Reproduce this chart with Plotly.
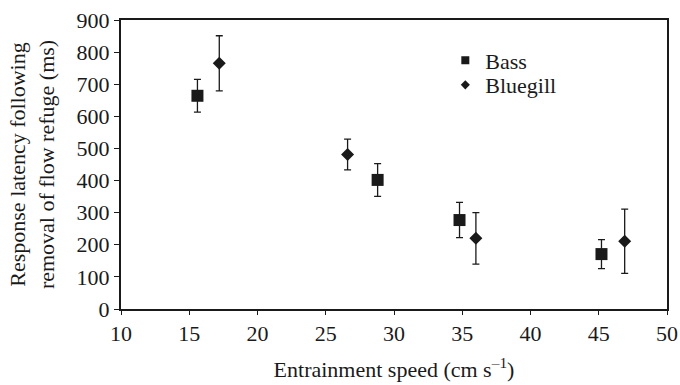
import plotly.graph_objects as go

bass_x = [15.6, 28.8, 34.8, 45.2]
bass_y = [664, 402, 277, 171]
bass_err = [51, 51, 55, 45]

bluegill_x = [17.2, 26.6, 36.0, 46.9]
bluegill_y = [765, 481, 220, 211]
bluegill_err = [86, 48, 80, 100]

x_ticks = [10, 15, 20, 25, 30, 35, 40, 45, 50]
y_ticks = [0, 100, 200, 300, 400, 500, 600, 700, 800, 900]

FONT = "Liberation Serif, Times New Roman, serif"
INK = "#1a1a1a"
FS = 22

fig = go.Figure()
fig.add_trace(go.Scatter(
    x=bass_x, y=bass_y, mode="markers", showlegend=False,
    marker=dict(symbol="square", size=12, color=INK),
    error_y=dict(type="data", array=bass_err, color=INK, thickness=1.3, width=3.5),
))
fig.add_trace(go.Scatter(
    x=bluegill_x, y=bluegill_y, mode="markers", showlegend=False,
    marker=dict(symbol="diamond", size=10, color=INK),
    error_y=dict(type="data", array=bluegill_err, color=INK, thickness=1.3, width=3.5),
))
fig.add_trace(go.Scatter(x=[None], y=[None], mode="markers", name="Bass", legend="legend",
                         marker=dict(symbol="square", size=8, color=INK)))
fig.add_trace(go.Scatter(x=[None], y=[None], mode="markers", name="Bluegill", legend="legend2",
                         marker=dict(symbol="diamond", size=7, color=INK)))

leg = dict(xanchor="left", yanchor="middle", bgcolor="rgba(0,0,0,0)",
           font=dict(size=FS, family=FONT, color=INK), itemwidth=30)
fig.update_layout(
    width=680, height=385,
    margin=dict(l=121, r=13, t=20, b=76),
    paper_bgcolor="white", plot_bgcolor="white",
    font=dict(family=FONT, size=FS, color=INK),
    showlegend=True,
    legend=dict(x=0.594, y=0.86, **leg),
    legend2=dict(x=0.594, y=0.775, **leg),
)
fig.update_xaxes(
    range=[10, 50], tickvals=x_ticks, ticktext=[str(v) for v in x_ticks],
    automargin=False,
    showgrid=False, zeroline=False, showline=True, linecolor=INK, linewidth=2,
    mirror=True, ticks="outside", ticklen=4, tickcolor=INK,
    tickfont=dict(size=FS, family=FONT),
    title=dict(text="Entrainment speed (cm s<sup>–1</sup>)", font=dict(size=FS, family=FONT), standoff=16),
)
fig.update_yaxes(
    range=[0, 900], tickvals=y_ticks, ticktext=[str(v) for v in y_ticks],
    automargin=False,
    showgrid=False, zeroline=False, showline=True, linecolor=INK, linewidth=2,
    mirror=True, ticks="outside", ticklen=5, tickcolor=INK,
    tickfont=dict(size=FS, family=FONT),
    title=dict(text="Response latency following<br>removal of flow refuge (ms)", font=dict(size=FS, family=FONT), standoff=16),
)

fig.write_html(
    "out.html",
    config={"displayModeBar": False},
    post_script="document.body.style.margin='0';document.documentElement.style.overflow='hidden';document.body.style.overflow='hidden';",
)
